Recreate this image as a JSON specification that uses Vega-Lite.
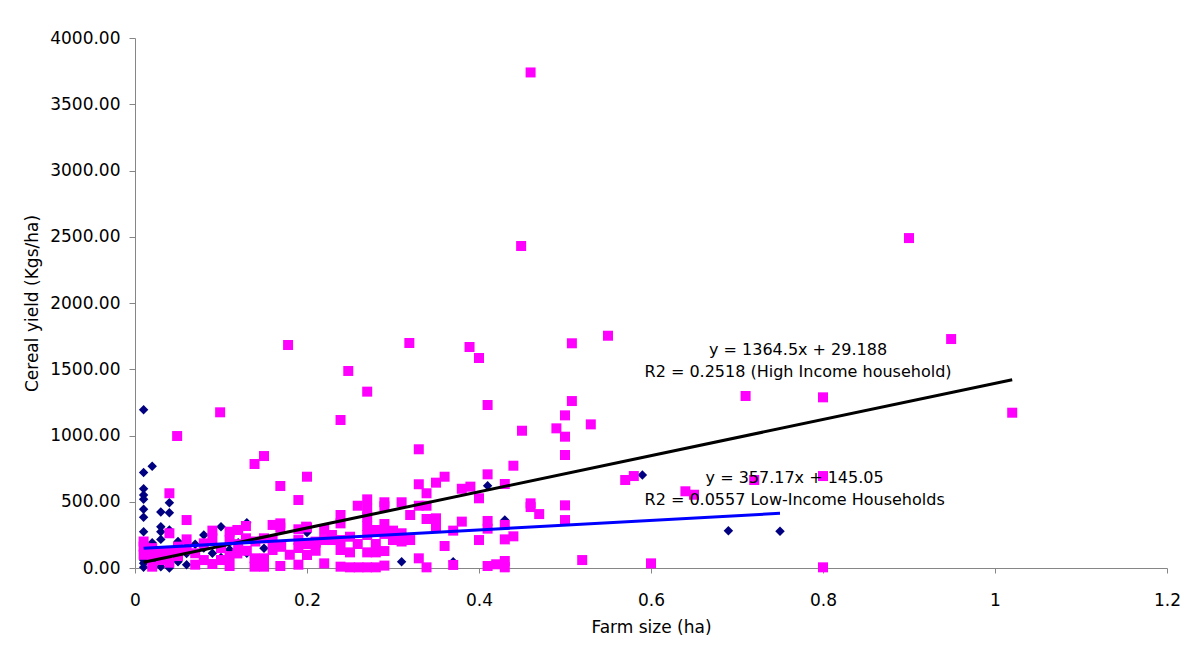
{
  "$schema": "https://vega.github.io/schema/vega-lite/v6.json",
  "width": 1032,
  "height": 530,
  "autosize": {"type": "none"},
  "padding": {"left": 135, "top": 38, "right": 30, "bottom": 77},
  "background": "#ffffff",
  "config": {
    "view": {"stroke": null},
    "axis": {
      "grid": false,
      "domainColor": "#868686",
      "tickColor": "#868686",
      "labelColor": "#000000",
      "titleColor": "#000000",
      "labelFont": "DejaVu Sans",
      "titleFont": "DejaVu Sans",
      "labelFontSize": 17,
      "titleFontSize": 17,
      "titleFontWeight": "normal"
    }
  },
  "datasets": {
    "low": [
      {"farm_size": 0.01, "yield": 1195}, {"farm_size": 0.01, "yield": 720}, {"farm_size": 0.02, "yield": 768},
      {"farm_size": 0.01, "yield": 598}, {"farm_size": 0.01, "yield": 551}, {"farm_size": 0.01, "yield": 518},
      {"farm_size": 0.01, "yield": 443}, {"farm_size": 0.01, "yield": 383}, {"farm_size": 0.01, "yield": 274},
      {"farm_size": 0.01, "yield": 198}, {"farm_size": 0.01, "yield": 110}, {"farm_size": 0.01, "yield": 35},
      {"farm_size": 0.01, "yield": 5}, {"farm_size": 0.01, "yield": 150}, {"farm_size": 0.01, "yield": 60},
      {"farm_size": 0.04, "yield": 493}, {"farm_size": 0.04, "yield": 417}, {"farm_size": 0.03, "yield": 423},
      {"farm_size": 0.03, "yield": 312}, {"farm_size": 0.03, "yield": 274}, {"farm_size": 0.04, "yield": 287},
      {"farm_size": 0.03, "yield": 216}, {"farm_size": 0.02, "yield": 191}, {"farm_size": 0.02, "yield": 160},
      {"farm_size": 0.1, "yield": 312}, {"farm_size": 0.08, "yield": 249}, {"farm_size": 0.06, "yield": 161},
      {"farm_size": 0.07, "yield": 180}, {"farm_size": 0.09, "yield": 111}, {"farm_size": 0.03, "yield": 10},
      {"farm_size": 0.04, "yield": 0}, {"farm_size": 0.05, "yield": 48}, {"farm_size": 0.06, "yield": 25},
      {"farm_size": 0.13, "yield": 342}, {"farm_size": 0.13, "yield": 111}, {"farm_size": 0.15, "yield": 149},
      {"farm_size": 0.2, "yield": 267}, {"farm_size": 0.31, "yield": 48}, {"farm_size": 0.37, "yield": 48},
      {"farm_size": 0.41, "yield": 621}, {"farm_size": 0.43, "yield": 362}, {"farm_size": 0.59, "yield": 702},
      {"farm_size": 0.69, "yield": 282}, {"farm_size": 0.75, "yield": 277}, {"farm_size": 0.02, "yield": 100},
      {"farm_size": 0.03, "yield": 130}, {"farm_size": 0.02, "yield": 50}, {"farm_size": 0.05, "yield": 200},
      {"farm_size": 0.06, "yield": 110}, {"farm_size": 0.08, "yield": 150}, {"farm_size": 0.11, "yield": 140},
      {"farm_size": 0.12, "yield": 190}, {"farm_size": 0.1, "yield": 80}
    ],
    "high": [
      {"farm_size": 0.46, "yield": 3740}, {"farm_size": 0.449, "yield": 2430}, {"farm_size": 0.9, "yield": 2490},
      {"farm_size": 0.949, "yield": 1728}, {"farm_size": 1.02, "yield": 1172}, {"farm_size": 0.8, "yield": 1288},
      {"farm_size": 0.71, "yield": 1298}, {"farm_size": 0.55, "yield": 1753}, {"farm_size": 0.508, "yield": 1696},
      {"farm_size": 0.319, "yield": 1698}, {"farm_size": 0.178, "yield": 1683}, {"farm_size": 0.389, "yield": 1668},
      {"farm_size": 0.4, "yield": 1585}, {"farm_size": 0.248, "yield": 1487}, {"farm_size": 0.27, "yield": 1331},
      {"farm_size": 0.41, "yield": 1230}, {"farm_size": 0.508, "yield": 1260}, {"farm_size": 0.239, "yield": 1117},
      {"farm_size": 0.099, "yield": 1175}, {"farm_size": 0.049, "yield": 996}, {"farm_size": 0.45, "yield": 1036},
      {"farm_size": 0.49, "yield": 1054}, {"farm_size": 0.53, "yield": 1084}, {"farm_size": 0.5, "yield": 1152},
      {"farm_size": 0.5, "yield": 991}, {"farm_size": 0.5, "yield": 853}, {"farm_size": 0.33, "yield": 896},
      {"farm_size": 0.15, "yield": 845}, {"farm_size": 0.139, "yield": 785}, {"farm_size": 0.44, "yield": 772},
      {"farm_size": 0.41, "yield": 707}, {"farm_size": 0.2, "yield": 689}, {"farm_size": 0.169, "yield": 619},
      {"farm_size": 0.36, "yield": 689}, {"farm_size": 0.35, "yield": 644}, {"farm_size": 0.33, "yield": 632},
      {"farm_size": 0.339, "yield": 564}, {"farm_size": 0.38, "yield": 598}, {"farm_size": 0.39, "yield": 614},
      {"farm_size": 0.43, "yield": 634}, {"farm_size": 0.4, "yield": 526}, {"farm_size": 0.46, "yield": 488},
      {"farm_size": 0.46, "yield": 460}, {"farm_size": 0.47, "yield": 407}, {"farm_size": 0.57, "yield": 664},
      {"farm_size": 0.58, "yield": 694}, {"farm_size": 0.64, "yield": 579}, {"farm_size": 0.65, "yield": 553},
      {"farm_size": 0.72, "yield": 664}, {"farm_size": 0.8, "yield": 694}, {"farm_size": 0.5, "yield": 473},
      {"farm_size": 0.5, "yield": 362}, {"farm_size": 0.52, "yield": 60}, {"farm_size": 0.6, "yield": 35},
      {"farm_size": 0.8, "yield": 5}, {"farm_size": 0.19, "yield": 513}, {"farm_size": 0.04, "yield": 564},
      {"farm_size": 0.06, "yield": 362}, {"farm_size": 0.27, "yield": 518}, {"farm_size": 0.259, "yield": 470},
      {"farm_size": 0.27, "yield": 448}, {"farm_size": 0.29, "yield": 496}, {"farm_size": 0.29, "yield": 466},
      {"farm_size": 0.31, "yield": 496}, {"farm_size": 0.32, "yield": 400}, {"farm_size": 0.33, "yield": 470},
      {"farm_size": 0.339, "yield": 470}, {"farm_size": 0.339, "yield": 370}, {"farm_size": 0.35, "yield": 375},
      {"farm_size": 0.35, "yield": 315}, {"farm_size": 0.239, "yield": 400}, {"farm_size": 0.239, "yield": 337},
      {"farm_size": 0.27, "yield": 387}, {"farm_size": 0.29, "yield": 332}, {"farm_size": 0.27, "yield": 317},
      {"farm_size": 0.28, "yield": 287}, {"farm_size": 0.3, "yield": 282}, {"farm_size": 0.29, "yield": 257},
      {"farm_size": 0.31, "yield": 262}, {"farm_size": 0.32, "yield": 211}, {"farm_size": 0.31, "yield": 200},
      {"farm_size": 0.3, "yield": 211}, {"farm_size": 0.27, "yield": 249}, {"farm_size": 0.28, "yield": 181},
      {"farm_size": 0.25, "yield": 236}, {"farm_size": 0.259, "yield": 181}, {"farm_size": 0.239, "yield": 211},
      {"farm_size": 0.36, "yield": 166}, {"farm_size": 0.27, "yield": 118}, {"farm_size": 0.28, "yield": 118},
      {"farm_size": 0.29, "yield": 128}, {"farm_size": 0.25, "yield": 118}, {"farm_size": 0.33, "yield": 73},
      {"farm_size": 0.339, "yield": 5}, {"farm_size": 0.37, "yield": 23}, {"farm_size": 0.25, "yield": 5},
      {"farm_size": 0.26, "yield": 5}, {"farm_size": 0.27, "yield": 5}, {"farm_size": 0.28, "yield": 5},
      {"farm_size": 0.29, "yield": 18}, {"farm_size": 0.38, "yield": 350}, {"farm_size": 0.41, "yield": 355},
      {"farm_size": 0.41, "yield": 297}, {"farm_size": 0.37, "yield": 282}, {"farm_size": 0.43, "yield": 325},
      {"farm_size": 0.43, "yield": 216}, {"farm_size": 0.44, "yield": 239}, {"farm_size": 0.4, "yield": 211},
      {"farm_size": 0.41, "yield": 15}, {"farm_size": 0.42, "yield": 28}, {"farm_size": 0.43, "yield": 53},
      {"farm_size": 0.43, "yield": 5}, {"farm_size": 0.129, "yield": 317}, {"farm_size": 0.119, "yield": 287},
      {"farm_size": 0.16, "yield": 325}, {"farm_size": 0.169, "yield": 337}, {"farm_size": 0.169, "yield": 304},
      {"farm_size": 0.19, "yield": 292}, {"farm_size": 0.2, "yield": 307}, {"farm_size": 0.22, "yield": 287},
      {"farm_size": 0.229, "yield": 249}, {"farm_size": 0.22, "yield": 211}, {"farm_size": 0.229, "yield": 211},
      {"farm_size": 0.21, "yield": 199}, {"farm_size": 0.19, "yield": 211}, {"farm_size": 0.19, "yield": 151},
      {"farm_size": 0.2, "yield": 98}, {"farm_size": 0.239, "yield": 136}, {"farm_size": 0.16, "yield": 211},
      {"farm_size": 0.16, "yield": 136}, {"farm_size": 0.15, "yield": 224}, {"farm_size": 0.129, "yield": 224},
      {"farm_size": 0.119, "yield": 110}, {"farm_size": 0.139, "yield": 73}, {"farm_size": 0.15, "yield": 73},
      {"farm_size": 0.139, "yield": 10}, {"farm_size": 0.15, "yield": 10}, {"farm_size": 0.169, "yield": 15},
      {"farm_size": 0.19, "yield": 25}, {"farm_size": 0.22, "yield": 35}, {"farm_size": 0.239, "yield": 10},
      {"farm_size": 0.04, "yield": 262}, {"farm_size": 0.06, "yield": 216}, {"farm_size": 0.09, "yield": 282},
      {"farm_size": 0.09, "yield": 224}, {"farm_size": 0.08, "yield": 186}, {"farm_size": 0.11, "yield": 274},
      {"farm_size": 0.11, "yield": 211}, {"farm_size": 0.01, "yield": 161}, {"farm_size": 0.01, "yield": 100},
      {"farm_size": 0.02, "yield": 90}, {"farm_size": 0.02, "yield": 10}, {"farm_size": 0.04, "yield": 123},
      {"farm_size": 0.04, "yield": 40}, {"farm_size": 0.07, "yield": 111}, {"farm_size": 0.07, "yield": 25},
      {"farm_size": 0.09, "yield": 30}, {"farm_size": 0.11, "yield": 90}, {"farm_size": 0.11, "yield": 15},
      {"farm_size": 0.05, "yield": 161}, {"farm_size": 0.02, "yield": 150}, {"farm_size": 0.03, "yield": 120},
      {"farm_size": 0.01, "yield": 200}, {"farm_size": 0.03, "yield": 60}, {"farm_size": 0.05, "yield": 90},
      {"farm_size": 0.06, "yield": 140}, {"farm_size": 0.08, "yield": 60}, {"farm_size": 0.1, "yield": 150},
      {"farm_size": 0.12, "yield": 180}, {"farm_size": 0.1, "yield": 60}, {"farm_size": 0.13, "yield": 130},
      {"farm_size": 0.14, "yield": 200}, {"farm_size": 0.17, "yield": 160}, {"farm_size": 0.18, "yield": 100},
      {"farm_size": 0.2, "yield": 180}, {"farm_size": 0.21, "yield": 130}, {"farm_size": 0.12, "yield": 287},
      {"farm_size": 0.21, "yield": 191}, {"farm_size": 0.199, "yield": 312}
    ],
    "fits": [
      {"group": "High", "farm_size": 0.01, "yield": 42.8},
      {"group": "High", "farm_size": 1.02, "yield": 1421},
      {"group": "Low", "farm_size": 0.01, "yield": 148.6},
      {"group": "Low", "farm_size": 0.75, "yield": 412.9}
    ],
    "labels": [
      {"farm_size": 0.771, "yield": 1645, "text": "y = 1364.5x + 29.188"},
      {"farm_size": 0.771, "yield": 1480, "text": "R2 = 0.2518 (High Income household)"},
      {"farm_size": 0.767, "yield": 680, "text": "y = 357.17x + 145.05"},
      {"farm_size": 0.767, "yield": 514, "text": "R2 = 0.0557 Low-Income Households"}
    ]
  },
  "layer": [
    {
      "data": {"name": "low"},
      "mark": {"type": "point", "shape": "diamond", "filled": true, "color": "#000080", "opacity": 1, "size": 90},
      "encoding": {
        "x": {
          "field": "farm_size", "type": "quantitative",
          "scale": {"domain": [0, 1.2], "nice": false, "zero": false},
          "axis": {"title": "Farm size (ha)", "values": [0, 0.2, 0.4, 0.6, 0.8, 1, 1.2], "format": "~g", "tickSize": 5, "labelFlush": false, "labelPadding": 19, "titlePadding": 11}
        },
        "y": {
          "field": "yield", "type": "quantitative",
          "scale": {"domain": [0, 4000], "nice": false},
          "axis": {"title": "Cereal yield (Kgs/ha)", "values": [0, 500, 1000, 1500, 2000, 2500, 3000, 3500, 4000], "format": ".2f", "tickSize": 6, "labelPadding": 9, "titlePadding": 8}
        }
      }
    },
    {
      "data": {"name": "high"},
      "mark": {"type": "point", "shape": "square", "filled": true, "color": "#FF00FF", "opacity": 1, "size": 100},
      "encoding": {
        "x": {"field": "farm_size", "type": "quantitative"},
        "y": {"field": "yield", "type": "quantitative"}
      }
    },
    {
      "data": {"name": "fits"},
      "mark": {"type": "line", "strokeWidth": 3},
      "encoding": {
        "x": {"field": "farm_size", "type": "quantitative"},
        "y": {"field": "yield", "type": "quantitative"},
        "color": {"field": "group", "type": "nominal", "scale": {"domain": ["High", "Low"], "range": ["#000000", "#0000FF"]}, "legend": null}
      }
    },
    {
      "data": {"name": "labels"},
      "mark": {"type": "text", "font": "DejaVu Sans", "fontSize": 16, "color": "#000000", "align": "center", "baseline": "middle"},
      "encoding": {
        "x": {"field": "farm_size", "type": "quantitative"},
        "y": {"field": "yield", "type": "quantitative"},
        "text": {"field": "text"}
      }
    }
  ]
}
